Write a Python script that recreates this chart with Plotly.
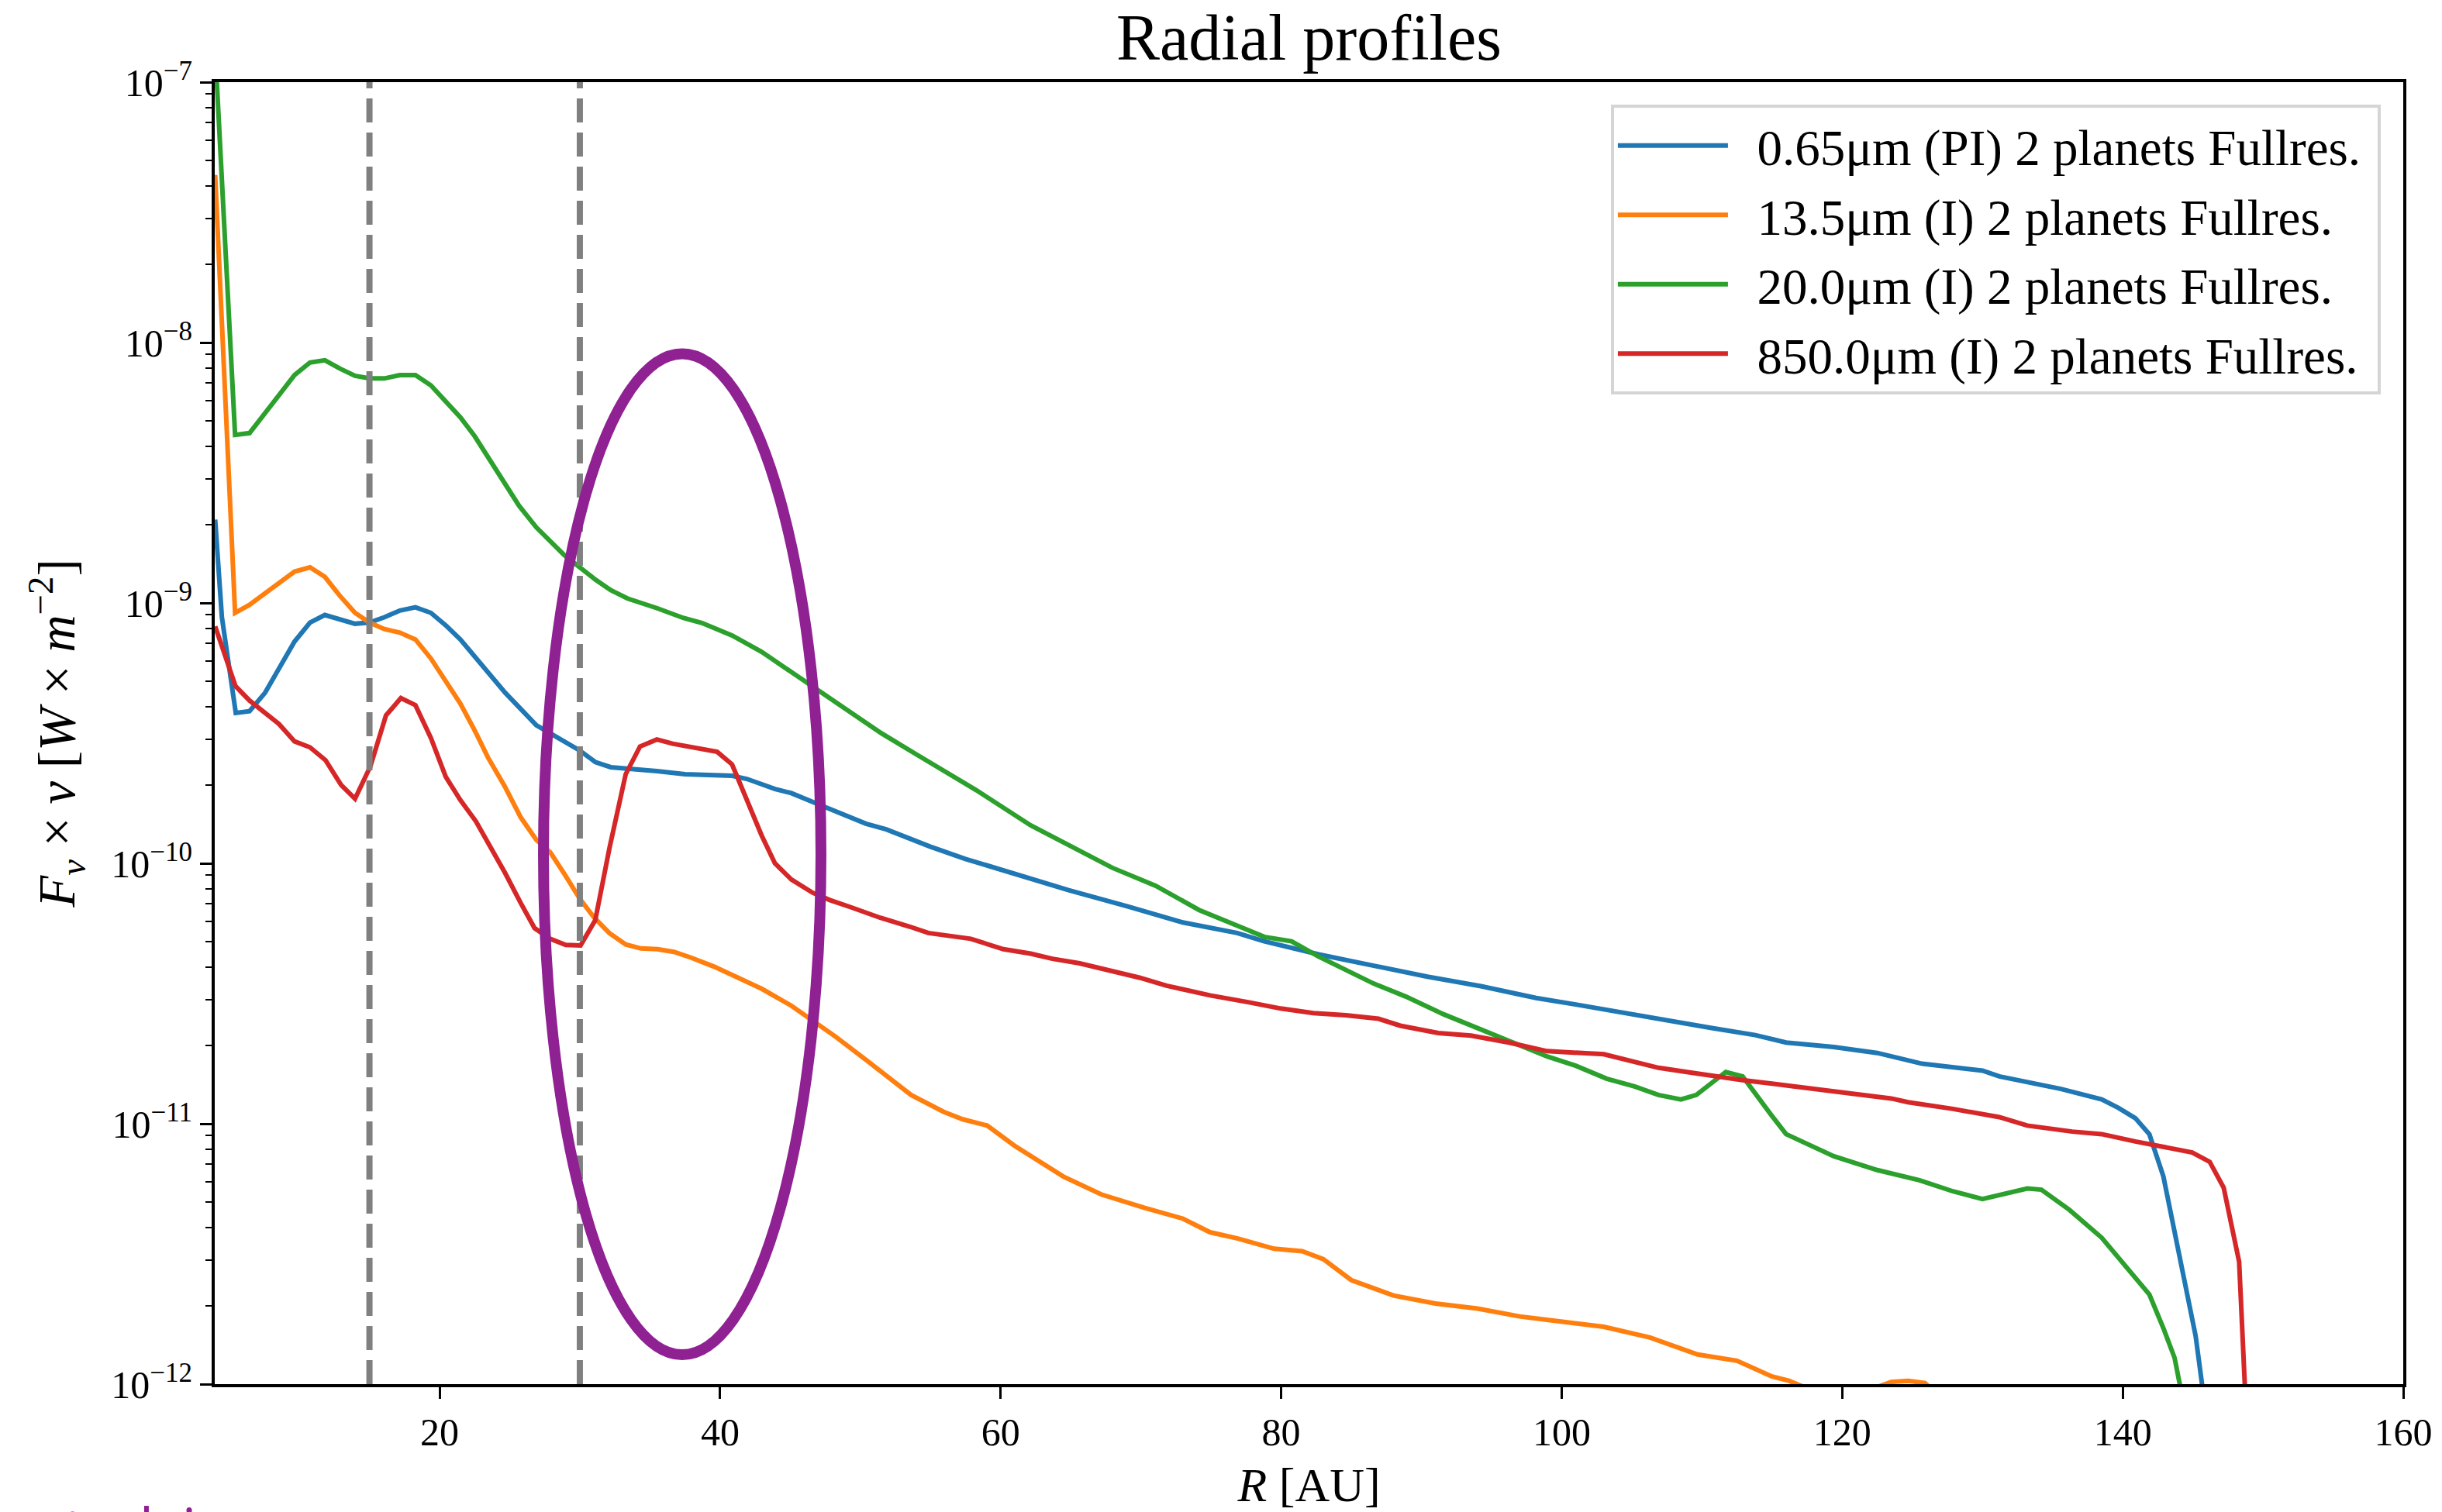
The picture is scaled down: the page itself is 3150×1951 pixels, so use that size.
import plotly.graph_objects as go

# ---------------- data ----------------
R_blue = [4.0, 4.48, 5.47, 6.45, 7.56, 9.66, 10.76, 11.82, 13.97, 15.0, 16.06, 17.17, 18.28,
          19.38, 20.44, 21.48, 24.68, 26.9, 27.88, 30.0, 31.1, 32.2, 35.5, 37.5, 40.85, 41.9,
          43.92, 45.08, 47.3, 50.4, 51.84, 53.53, 54.97, 57.49, 61.36, 64.85, 69.11, 72.99,
          76.86, 78.8, 82.68, 86.56, 90.43, 94.31, 98.18, 101.0, 104.4, 107.3, 110.7, 113.8,
          116.0, 119.4, 122.5, 125.7, 129.4, 130.0, 131.2, 135.6, 138.5, 139.7, 140.9, 141.9,
          142.9, 144.15, 145.2, 146.2]
F_blue = [2.09e-9, 8.81e-10, 3.78e-10, 3.84e-10, 4.52e-10, 7.11e-10, 8.41e-10, 8.99e-10,
          8.32e-10, 8.41e-10, 8.81e-10, 9.35e-10, 9.62e-10, 9.16e-10, 8.2e-10, 7.24e-10,
          4.52e-10, 3.39e-10, 3.16e-10, 2.71e-10, 2.45e-10, 2.34e-10, 2.26e-10, 2.2e-10,
          2.17e-10, 2.11e-10, 1.93e-10, 1.86e-10, 1.66e-10, 1.42e-10, 1.35e-10, 1.24e-10,
          1.16e-10, 1.04e-10, 8.99e-11, 7.89e-11, 6.82e-11, 5.93e-11, 5.4e-11, 5.02e-11,
          4.47e-11, 4.05e-11, 3.67e-11, 3.37e-11, 3.04e-11, 2.87e-11, 2.66e-11, 2.49e-11,
          2.33e-11, 2.19e-11, 2.05e-11, 1.97e-11, 1.87e-11, 1.7e-11, 1.6e-11, 1.6e-11,
          1.52e-11, 1.36e-11, 1.24e-11, 1.15e-11, 1.05e-11, 9.12e-12, 6.27e-12, 2.95e-12,
          1.53e-12, 6.0e-13]

R_orange = [4.0, 5.42, 6.45, 7.56, 8.55, 9.66, 10.76, 11.82, 12.86, 13.97, 15.0, 16.06, 17.17,
            18.28, 19.38, 20.49, 21.48, 22.5, 23.45, 24.68, 25.79, 26.9, 27.9, 28.95, 30.0,
            31.0, 32.1, 33.27, 34.35, 35.54, 36.7, 37.9, 39.58, 41.27, 42.96, 45.08, 48.23,
            50.51, 53.62, 55.95, 57.3, 59.04, 60.98, 64.47, 67.18, 70.28, 73.0, 74.93, 76.86,
            79.5, 81.5, 83.0, 85.0, 88.0, 91.0, 94.0, 97.0, 99.17, 103.0, 106.3, 108.5, 109.7,
            112.5, 115.0, 116.2, 118.2, 120.0, 121.9, 123.5, 124.7, 125.9, 127.0, 135.0]
F_orange = [4.4e-8, 9.16e-10, 9.84e-10, 1.09e-9, 1.2e-9, 1.32e-9, 1.37e-9, 1.26e-9, 1.07e-9,
            9.16e-10, 8.41e-10, 7.94e-10, 7.69e-10, 7.24e-10, 6.12e-10, 4.99e-10, 4.11e-10,
            3.24e-10, 2.55e-10, 1.96e-10, 1.5e-10, 1.23e-10, 1.1e-10, 9.02e-11, 7.31e-11,
            6.21e-11, 5.4e-11, 4.88e-11, 4.71e-11, 4.68e-11, 4.57e-11, 4.35e-11, 4.01e-11,
            3.64e-11, 3.3e-11, 2.84e-11, 2.16e-11, 1.74e-11, 1.29e-11, 1.11e-11, 1.04e-11,
            9.84e-12, 8.24e-12, 6.27e-12, 5.35e-12, 4.75e-12, 4.32e-12, 3.83e-12, 3.63e-12,
            3.31e-12, 3.24e-12, 3.02e-12, 2.51e-12, 2.19e-12, 2.04e-12, 1.95e-12, 1.82e-12,
            1.76e-12, 1.66e-12, 1.51e-12, 1.37e-12, 1.3e-12, 1.23e-12, 1.07e-12, 1.03e-12,
            9.3e-13, 8.7e-13, 9.5e-13, 1.02e-12, 1.03e-12, 1.01e-12, 8.9e-13, 6.0e-13]

R_green = [4.0, 5.42, 6.45, 7.56, 8.55, 9.66, 10.76, 11.82, 12.9, 13.97, 15.0, 16.06, 17.17,
           18.28, 19.38, 20.44, 21.48, 22.5, 23.45, 24.5, 25.67, 26.9, 28.0, 28.87, 30.0, 31.1,
           32.2, 33.4, 35.5, 37.4, 38.7, 40.85, 42.96, 46.13, 48.25, 51.5, 54.0, 58.26, 62.14,
           67.95, 71.05, 74.15, 77.25, 78.8, 80.74, 82.68, 86.56, 88.88, 91.6, 95.47, 99.0,
           101.0, 103.2, 105.2, 106.9, 108.5, 109.6, 111.7, 112.9, 115.0, 116.0, 119.4, 122.5,
           125.5, 127.9, 130.0, 131.6, 133.2, 134.2, 136.2, 138.5, 140.5, 141.9, 142.9, 143.7,
           144.8]
F_green = [1.33e-7, 4.42e-9, 4.49e-9, 5.37e-9, 6.3e-9, 7.5e-9, 8.38e-9, 8.55e-9, 7.94e-9,
           7.45e-9, 7.28e-9, 7.28e-9, 7.5e-9, 7.5e-9, 6.85e-9, 5.96e-9, 5.16e-9, 4.37e-9,
           3.63e-9, 2.95e-9, 2.36e-9, 1.95e-9, 1.7e-9, 1.53e-9, 1.37e-9, 1.23e-9, 1.12e-9,
           1.04e-9, 9.55e-10, 8.75e-10, 8.38e-10, 7.5e-10, 6.49e-10, 4.97e-10, 4.16e-10,
           3.16e-10, 2.62e-10, 1.91e-10, 1.4e-10, 9.62e-11, 8.2e-11, 6.62e-11, 5.65e-11,
           5.22e-11, 5.02e-11, 4.38e-11, 3.46e-11, 3.08e-11, 2.63e-11, 2.16e-11, 1.81e-11,
           1.67e-11, 1.49e-11, 1.39e-11, 1.29e-11, 1.24e-11, 1.29e-11, 1.58e-11, 1.52e-11,
           1.07e-11, 9.12e-12, 7.5e-12, 6.64e-12, 6.07e-12, 5.5e-12, 5.14e-12, 5.36e-12,
           5.64e-12, 5.58e-12, 4.67e-12, 3.65e-12, 2.72e-12, 2.21e-12, 1.64e-12, 1.26e-12,
           6.3e-13]

R_red = [4.0, 5.45, 6.45, 7.56, 8.55, 9.66, 10.76, 11.87, 12.98, 13.97, 15.07, 16.18, 17.24,
         18.28, 19.38, 20.44, 21.48, 22.59, 23.65, 24.68, 25.79, 26.77, 27.88, 28.99, 30.05,
         31.1, 32.12, 33.27, 34.29, 35.49, 36.62, 37.57, 38.73, 39.79, 40.85, 41.69, 42.96,
         43.91, 45.08, 46.6, 47.82, 49.3, 51.42, 53.53, 54.85, 57.87, 60.2, 62.14, 63.69, 65.63,
         67.95, 69.89, 71.83, 74.93, 77.64, 79.97, 82.29, 84.62, 86.94, 88.49, 91.21, 93.53,
         96.24, 98.96, 103.0, 106.9, 109.3, 112.9, 116.2, 120.2, 123.5, 124.7, 127.9, 131.2,
         133.2, 136.4, 138.5, 140.9, 144.95, 146.2, 147.2, 148.3, 149.3]
F_red = [8.13e-10, 4.79e-10, 4.22e-10, 3.8e-10, 3.43e-10, 2.94e-10, 2.79e-10, 2.49e-10, 2.0e-10,
         1.77e-10, 2.36e-10, 3.7e-10, 4.31e-10, 4.05e-10, 3.03e-10, 2.15e-10, 1.75e-10,
         1.45e-10, 1.16e-10, 9.16e-11, 7.03e-11, 5.64e-11, 5.13e-11, 4.86e-11, 4.84e-11,
         6.05e-11, 1.15e-10, 2.2e-10, 2.81e-10, 2.99e-10, 2.88e-10, 2.81e-10, 2.75e-10,
         2.68e-10, 2.4e-10, 1.86e-10, 1.28e-10, 1.0e-10, 8.67e-11, 7.71e-11, 7.23e-11,
         6.79e-11, 6.18e-11, 5.71e-11, 5.4e-11, 5.13e-11, 4.68e-11, 4.5e-11, 4.3e-11, 4.13e-11,
         3.85e-11, 3.64e-11, 3.39e-11, 3.11e-11, 2.93e-11, 2.77e-11, 2.66e-11, 2.61e-11,
         2.53e-11, 2.38e-11, 2.23e-11, 2.18e-11, 2.05e-11, 1.9e-11, 1.85e-11, 1.64e-11,
         1.57e-11, 1.47e-11, 1.4e-11, 1.31e-11, 1.25e-11, 1.21e-11, 1.14e-11, 1.06e-11,
         9.84e-12, 9.33e-12, 9.12e-12, 8.55e-12, 7.76e-12, 7.14e-12, 5.68e-12, 2.95e-12, 2.0e-13]

labels = ["0.65μm (PI) 2 planets Fullres.",
          "13.5μm (I) 2 planets Fullres.",
          "20.0μm (I) 2 planets Fullres.",
          "850.0μm (I) 2 planets Fullres."]
colors = ["#1f77b4", "#ff7f0e", "#2ca02c", "#d62728"]
planet_R = [15, 30]
x_ticks = [20, 40, 60, 80, 100, 120, 140, 160]
y_exps = [-12, -11, -10, -9, -8, -7]
footer_text = "studying"

FONT = "Liberation Serif, DejaVu Serif, serif"
NB = "\u00a0"

fig = go.Figure()
series = [(R_blue, F_blue), (R_orange, F_orange), (R_green, F_green), (R_red, F_red)]
for i, ((rx, fy), lab, col) in enumerate(zip(series, labels, colors)):
    fig.add_trace(go.Scatter(x=rx, y=fy, mode="lines", name=NB * 2 + lab + NB,
                             legendgroup=f"g{i}", line=dict(color=col, width=6)))

shapes = []
for r in planet_R:
    shapes.append(dict(type="line", xref="x", yref="paper", x0=r, x1=r, y0=0, y1=1,
                       line=dict(color="#808080", width=8, dash="31px,13px"), layer="above"))
shapes.append(dict(type="circle", xref="paper", yref="paper", x0=0.1502, x1=0.2770,
                   y0=0.0226, y1=0.7914, line=dict(color="#8f2193", width=14), layer="above"))

minor_vals = [k * 10.0 ** e for e in y_exps[:-1] for k in range(2, 10)]

fig.update_layout(
    width=3150, height=1951,
    margin=dict(l=277, r=50, t=106, b=162),
    paper_bgcolor="white", plot_bgcolor="white",
    font=dict(family=FONT, color="black", size=50),
    title=dict(text="Radial profiles", x=0.5, xref="paper", xanchor="center",
               y=1 - 48 / 1951, yref="container", yanchor="middle",
               font=dict(family=FONT, size=84, color="black")),
    showlegend=True,
    legend=dict(x=0.9897, xanchor="right", y=0.9828, yanchor="top",
                bgcolor="white", bordercolor="#d5d5d5", borderwidth=4,
                font=dict(family=FONT, size=65, color="black"),
                itemwidth=142, tracegroupgap=2),
    shapes=shapes,
    annotations=[dict(text=footer_text, xref="paper", yref="paper",
                      x=(46 - 277) / 2823, y=(1789 - 1974) / 1683,
                      xanchor="left", yanchor="middle", showarrow=False,
                      font=dict(family="Open Sans", size=73, color="#8f2193"))],
)

fig.update_xaxes(range=[3.97, 160], tickvals=x_ticks, ticktext=[str(v) for v in x_ticks],
                 ticks="outside", ticklen=15, tickwidth=3, tickcolor="black",
                 showline=True, linewidth=4, linecolor="black", mirror=True,
                 showgrid=False, zeroline=False,
                 tickfont=dict(family=FONT, size=50, color="black"),
                 title=dict(text="<i>R</i> [AU]", font=dict(family=FONT, size=62, color="black"),
                            standoff=20))

fig.update_yaxes(type="log", range=[-12, -7],
                 tickvals=[10.0 ** e for e in y_exps],
                 ticktext=[f"10<sup>−{abs(e)}</sup>" for e in y_exps],
                 ticks="outside", ticklen=15, tickwidth=3, tickcolor="black",
                 minor=dict(tickvals=minor_vals, ticks="outside", ticklen=8, tickwidth=2,
                            tickcolor="black", showgrid=False),
                 showline=True, linewidth=4, linecolor="black", mirror=True,
                 showgrid=False, zeroline=False,
                 tickfont=dict(family=FONT, size=50, color="black"),
                 title=dict(text="<i>F</i><sub><i>ν</i></sub> × <i>ν</i> [<i>W</i> × <i>m</i><sup>−2</sup>]",
                            font=dict(family=FONT, size=67, color="black"), standoff=26))

fig.write_html("out.html")
